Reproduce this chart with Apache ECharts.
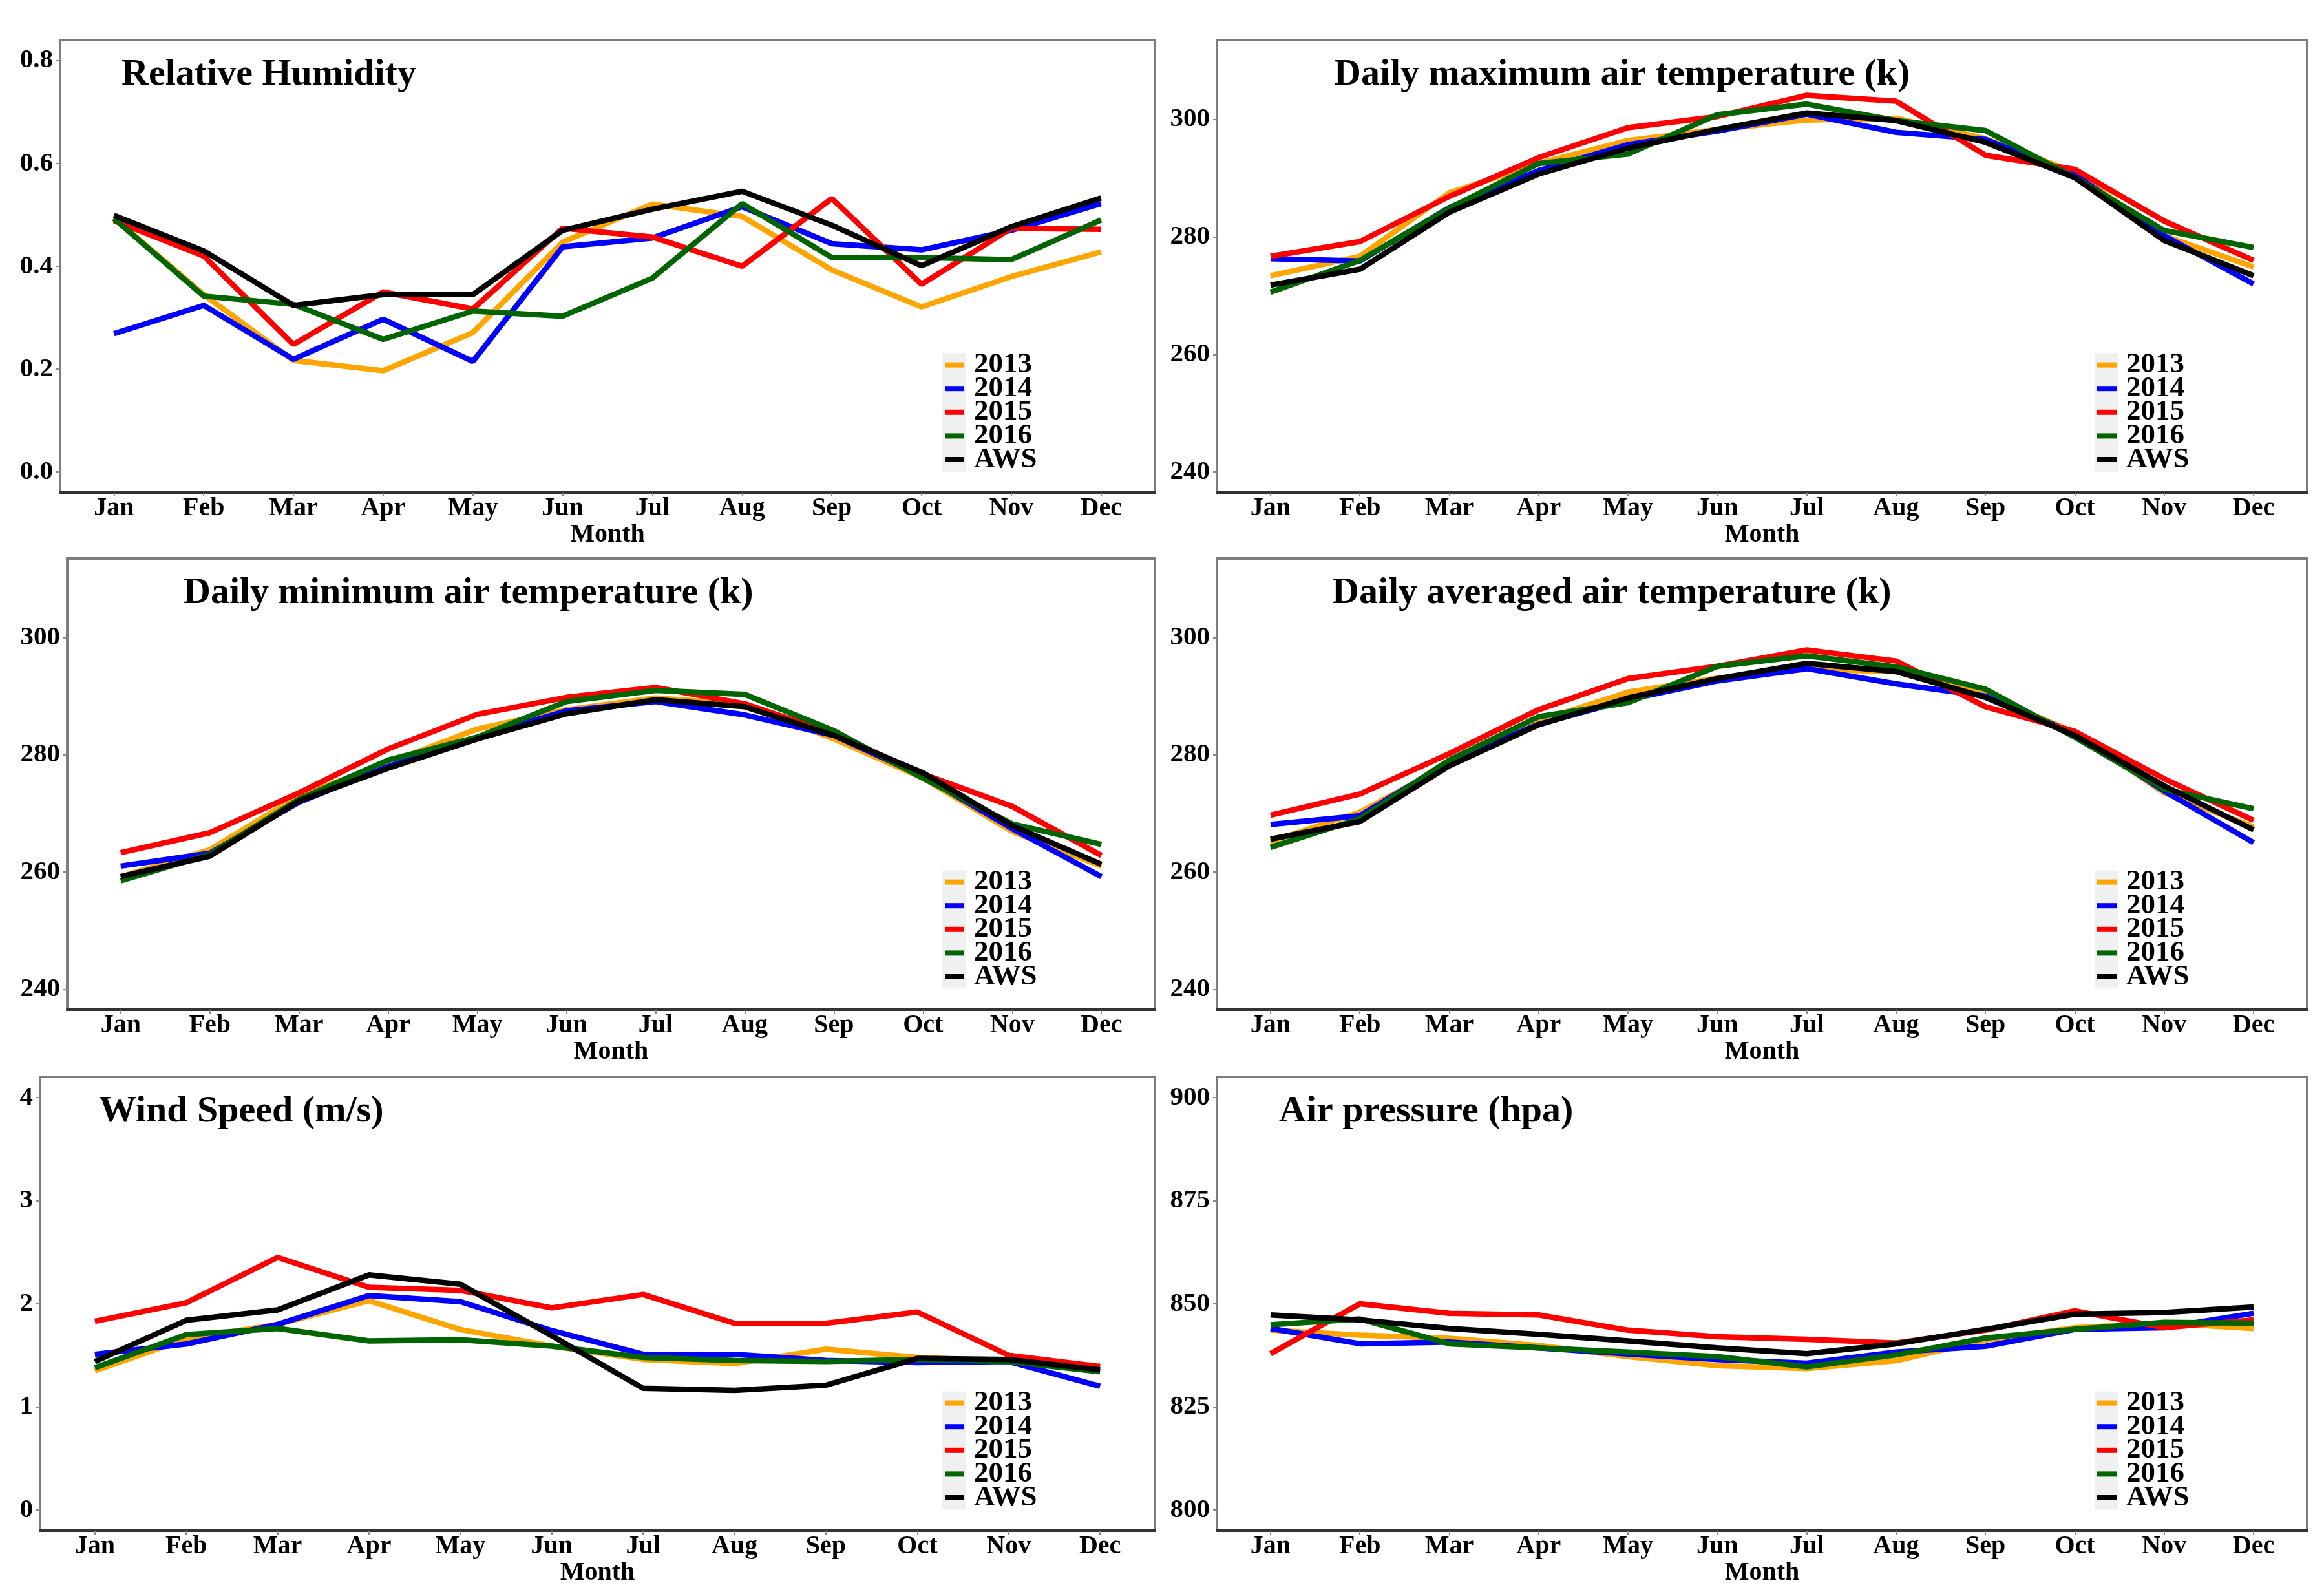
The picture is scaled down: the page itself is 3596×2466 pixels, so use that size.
<!DOCTYPE html>
<html>
<head>
<meta charset="utf-8">
<script src="https://cdn.jsdelivr.net/npm/echarts@6/dist/echarts.min.js"></script>
<style>
html,body{margin:0;padding:0;background:#fff;}
#chart{width:3596px;height:2466px;}
</style>
</head>
<body>
<div id="chart"></div>
<script>
// ---------- data ----------
const months = ['Jan','Feb','Mar','Apr','May','Jun','Jul','Aug','Sep','Oct','Nov','Dec'];
const seriesNames = ['2013','2014','2015','2016','AWS'];
const seriesColors = ['#FFA500','#0000FF','#FF0000','#006400','#000000'];

const panelTitles = ['Relative Humidity','Daily maximum air temperature (k)','Daily minimum air temperature (k)',
  'Daily averaged air temperature (k)','Wind Speed (m/s)','Air pressure (hpa)'];

const rhTicks = [0, 0.2, 0.4, 0.6, 0.8];
const tempTicks = [240, 260, 280, 300];
const windTicks = [0, 1, 2, 3, 4];
const presTicks = [800, 825, 850, 875, 900];

// Relative humidity
const rh2013 = [0.494,0.345,0.217,0.197,0.271,0.447,0.521,0.497,0.393,0.321,0.380,0.428];
const rh2014 = [0.269,0.324,0.219,0.297,0.215,0.438,0.455,0.516,0.444,0.432,0.470,0.522];
const rh2015 = [0.489,0.420,0.248,0.350,0.317,0.474,0.457,0.400,0.532,0.365,0.474,0.472];
const rh2016 = [0.493,0.342,0.326,0.258,0.313,0.303,0.377,0.522,0.417,0.417,0.413,0.490];
const rhAWS  = [0.499,0.430,0.324,0.345,0.345,0.470,0.511,0.546,0.480,0.401,0.477,0.533];

// Daily maximum air temperature (K)
const tmax2013 = [273.4,276.7,287.5,292.5,296.4,298.3,299.9,300.2,296.7,291.0,280.2,274.9];
const tmax2014 = [276.3,275.9,285.0,291.3,295.7,298.0,300.9,297.8,296.6,290.6,280.2,272.0];
const tmax2015 = [276.7,279.2,286.9,293.5,298.6,300.5,304.1,303.1,293.9,291.5,282.7,276.0];
const tmax2016 = [270.6,276.0,284.9,292.5,294.1,300.8,302.6,299.8,298.1,290.1,281.1,278.2];
const tmaxAWS  = [271.8,274.5,284.2,290.7,295.1,298.3,301.1,299.8,296.1,290.1,279.4,273.4];

// Daily minimum air temperature (K)
const tmin2013 = [259.2,263.8,273.0,278.6,284.4,287.7,289.7,288.6,282.7,276.0,266.9,261.0];
const tmin2014 = [261.0,263.2,271.9,278.0,283.0,287.5,289.1,286.8,283.3,276.3,267.4,259.2];
const tmin2015 = [263.3,266.7,273.5,281.0,286.9,289.8,291.5,288.7,283.6,276.7,271.2,262.8];
const tmin2016 = [258.5,263.0,272.4,279.1,283.0,289.1,291.0,290.3,284.1,276.0,268.2,264.7];
const tminAWS  = [259.2,262.7,272.1,277.7,282.7,287.0,289.4,288.2,283.3,276.9,267.9,261.3];

// Daily averaged air temperature (K)
const tavg2013 = [265.2,270.2,278.4,285.8,290.7,293.1,294.6,294.2,290.2,283.8,273.5,267.7];
const tavg2014 = [268.1,269.6,278.8,285.2,289.4,292.6,294.7,292.1,290.0,283.6,273.8,265.0];
const tavg2015 = [269.7,273.3,280.2,287.7,293.0,295.1,297.9,296.0,288.2,284.0,275.9,268.8];
const tavg2016 = [264.2,269.1,279.1,286.5,288.9,295.1,296.9,295.0,291.2,283.0,274.1,270.8];
const tavgAWS  = [265.6,268.6,278.1,285.1,289.7,293.0,295.6,294.2,289.8,283.3,274.7,267.2];

// Wind speed (m/s)
const wind2013 = [1.35,1.66,1.80,2.03,1.75,1.59,1.46,1.42,1.56,1.48,1.44,1.40];
const wind2014 = [1.51,1.61,1.80,2.08,2.02,1.74,1.51,1.51,1.45,1.43,1.44,1.20];
const wind2015 = [1.83,2.01,2.45,2.16,2.13,1.96,2.09,1.81,1.81,1.92,1.50,1.39];
const wind2016 = [1.38,1.70,1.76,1.64,1.65,1.59,1.48,1.45,1.44,1.46,1.44,1.34];
const windAWS  = [1.44,1.84,1.94,2.28,2.19,1.69,1.18,1.16,1.21,1.47,1.46,1.36];

// Air pressure (hPa)
const pres2013 = [843.6,842.4,841.6,839.9,837.2,835.0,834.3,836.2,841.2,844.2,845.3,844.0];
const pres2014 = [844.0,840.3,840.7,839.3,837.8,836.5,835.6,838.3,839.7,843.8,844.2,847.7];
const pres2015 = [837.9,850.0,847.7,847.3,843.6,842.0,841.4,840.5,843.6,848.3,844.2,846.1];
const pres2016 = [844.9,846.3,840.3,839.3,838.3,837.2,834.7,837.6,841.7,843.8,845.5,845.3];
const presAWS  = [847.3,846.1,844.0,842.6,841.0,839.3,837.9,840.3,843.8,847.5,847.9,849.2];

// ---------- panel assembly ----------
const panelData = [
  [rh2013, rh2014, rh2015, rh2016, rhAWS],
  [tmax2013, tmax2014, tmax2015, tmax2016, tmaxAWS],
  [tmin2013, tmin2014, tmin2015, tmin2016, tminAWS],
  [tavg2013, tavg2014, tavg2015, tavg2016, tavgAWS],
  [wind2013, wind2014, wind2015, wind2016, windAWS],
  [pres2013, pres2014, pres2015, pres2016, presAWS]
];
const panelTicks = [rhTicks, tempTicks, tempTicks, tempTicks, windTicks, presTicks];
// ggplot-style 5% expansion of the limits
const panelRange = [[-0.04,0.84],[236.5,313.5],[236.5,313.5],[236.5,313.5],[-0.2,4.2],[795,905]];
const panelFmt = [v=>v.toFixed(1), v=>String(v), v=>String(v), v=>String(v), v=>String(v), v=>String(v)];

const layout = [
  {left:93,   top:62,   width:1694, height:700, titleDx:95},
  {left:1883, top:62,   width:1687, height:700, titleDx:181},
  {left:104,  top:864,  width:1683, height:698, titleDx:180},
  {left:1883, top:864,  width:1687, height:698, titleDx:178},
  {left:62,   top:1666, width:1725, height:702, titleDx:91},
  {left:1883, top:1666, width:1687, height:702, titleDx:96}
];

const FONT = '"Liberation Serif", "Times New Roman", serif';
const monthIdx = months.map((m,i)=>i);

const grids = [], xAxes = [], yAxes = [], series = [], legends = [], graphics = [];

layout.forEach((L, p) => {
  grids.push({left:L.left, top:L.top, width:L.width, height:L.height, containLabel:false,
    show:true, borderColor:'#7d7d7d', borderWidth:4, backgroundColor:'#fff'});
  xAxes.push({
    type:'value', gridIndex:p, min:-0.6, max:11.6,
    axisLine:{show:true, onZero:false, lineStyle:{color:'#333', width:4}},
    axisTick:{show:true, customValues:monthIdx, length:6, lineStyle:{color:'#8a8a8a', width:2}},
    axisLabel:{customValues:monthIdx, formatter:v=>months[Math.round(v)], margin:5,
      fontFamily:FONT, fontWeight:'bold', fontSize:40, color:'#000'},
    splitLine:{show:false},
    name:'Month', nameLocation:'middle', nameGap:42,
    nameTextStyle:{fontFamily:FONT, fontWeight:'bold', fontSize:40, color:'#000'}
  });
  yAxes.push({
    type:'value', gridIndex:p, min:panelRange[p][0], max:panelRange[p][1],
    axisLine:{show:true, onZero:false, lineStyle:{color:'#7d7d7d', width:4}},
    axisTick:{show:true, customValues:panelTicks[p], length:6, lineStyle:{color:'#8a8a8a', width:2}},
    axisLabel:{customValues:panelTicks[p], formatter:panelFmt[p], margin:11,
      fontFamily:FONT, fontWeight:'bold', fontSize:41, color:'#000'},
    splitLine:{show:false}
  });
  panelData[p].forEach((vals, j) => {
    series.push({
      type:'line', name:seriesNames[j], xAxisIndex:p, yAxisIndex:p,
      data: vals.map((v,i)=>[i, v]),
      symbol:'none', showSymbol:false, z:2+j,
      lineStyle:{color:seriesColors[j], width:8.5},
      itemStyle:{color:seriesColors[j]},
      animation:false, silent:true
    });
  });
  // title text inside panel
  graphics.push({type:'text', x:L.left + L.titleDx, y:L.top + 54, z:10,
    style:{text:panelTitles[p], fontFamily:FONT, fontWeight:'bold', fontSize:58, fill:'#000',
      verticalAlign:'middle', align:'left'}});
  // legend (keys on grey background, lower right of panel)
  const right = L.left + L.width, bottom = L.top + L.height;
  const keyLeft = right - 325;
  const rowH = 36.6;
  const fs = 45;
  const lastC = bottom - 51;
  const firstC = lastC - 4*rowH;
  graphics.push({type:'rect', z:1, shape:{x:keyLeft-4, y:firstC-18, width:37, height:5*rowH},
    style:{fill:'#F0F0F0'}});
  legends.push({
    orient:'vertical', left:keyLeft, top:firstC - fs/2, padding:0,
    itemWidth:30, itemHeight:8, itemGap:rowH - fs, icon:'rect', selectedMode:false,
    data:seriesNames,
    textStyle:{fontFamily:FONT, fontWeight:'bold', fontSize:fs, color:'#000', lineHeight:fs,
      padding:[0,0,0,10]}
  });
});

const chart = echarts.init(document.getElementById('chart'), null, {width:3596, height:2466, renderer:'canvas'});
chart.setOption({
  backgroundColor:'#fff',
  animation:false,
  grid:grids, xAxis:xAxes, yAxis:yAxes, series:series, legend:legends,
  graphic:{elements:graphics}
});
</script>
</body>
</html>
